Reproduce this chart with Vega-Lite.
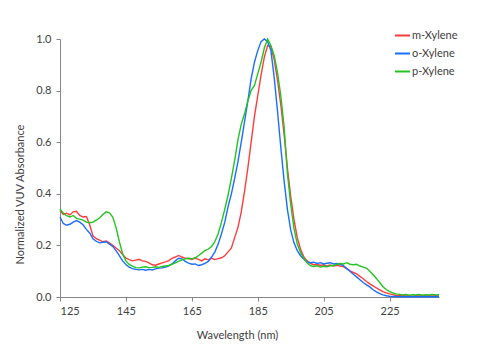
{
"$schema": "https://vega.github.io/schema/vega-lite/v6.json",
"width": 379, "height": 258,
"autosize": {"type": "none"},
"padding": {"left": 60, "top": 39, "right": 38, "bottom": 59},
"background": "white",
"config": {"view": {"stroke": null}, "font": "Lato"},
"data": {"values": [
{"x":125,"m-Xylene":0.335,"o-Xylene":0.31,"p-Xylene":0.34},
{"x":126,"m-Xylene":0.32,"o-Xylene":0.285,"p-Xylene":0.325},
{"x":127,"m-Xylene":0.325,"o-Xylene":0.278,"p-Xylene":0.315},
{"x":128,"m-Xylene":0.318,"o-Xylene":0.282,"p-Xylene":0.31},
{"x":129,"m-Xylene":0.33,"o-Xylene":0.29,"p-Xylene":0.316},
{"x":130,"m-Xylene":0.332,"o-Xylene":0.296,"p-Xylene":0.305},
{"x":131,"m-Xylene":0.316,"o-Xylene":0.29,"p-Xylene":0.302},
{"x":132,"m-Xylene":0.31,"o-Xylene":0.28,"p-Xylene":0.298},
{"x":133,"m-Xylene":0.312,"o-Xylene":0.262,"p-Xylene":0.29},
{"x":134,"m-Xylene":0.28,"o-Xylene":0.248,"p-Xylene":0.288},
{"x":135,"m-Xylene":0.237,"o-Xylene":0.226,"p-Xylene":0.29},
{"x":136,"m-Xylene":0.226,"o-Xylene":0.216,"p-Xylene":0.298},
{"x":137,"m-Xylene":0.22,"o-Xylene":0.21,"p-Xylene":0.306},
{"x":138,"m-Xylene":0.214,"o-Xylene":0.212,"p-Xylene":0.32},
{"x":139,"m-Xylene":0.217,"o-Xylene":0.214,"p-Xylene":0.33},
{"x":140,"m-Xylene":0.21,"o-Xylene":0.205,"p-Xylene":0.326},
{"x":141,"m-Xylene":0.2,"o-Xylene":0.196,"p-Xylene":0.31},
{"x":142,"m-Xylene":0.19,"o-Xylene":0.18,"p-Xylene":0.27},
{"x":143,"m-Xylene":0.18,"o-Xylene":0.16,"p-Xylene":0.215},
{"x":144,"m-Xylene":0.165,"o-Xylene":0.14,"p-Xylene":0.168},
{"x":145,"m-Xylene":0.151,"o-Xylene":0.126,"p-Xylene":0.14},
{"x":146,"m-Xylene":0.145,"o-Xylene":0.116,"p-Xylene":0.126},
{"x":147,"m-Xylene":0.14,"o-Xylene":0.11,"p-Xylene":0.12},
{"x":148,"m-Xylene":0.143,"o-Xylene":0.107,"p-Xylene":0.114},
{"x":149,"m-Xylene":0.146,"o-Xylene":0.105,"p-Xylene":0.113},
{"x":150,"m-Xylene":0.14,"o-Xylene":0.107,"p-Xylene":0.116},
{"x":151,"m-Xylene":0.138,"o-Xylene":0.104,"p-Xylene":0.117},
{"x":152,"m-Xylene":0.132,"o-Xylene":0.107,"p-Xylene":0.114},
{"x":153,"m-Xylene":0.125,"o-Xylene":0.105,"p-Xylene":0.115},
{"x":154,"m-Xylene":0.123,"o-Xylene":0.109,"p-Xylene":0.117},
{"x":155,"m-Xylene":0.128,"o-Xylene":0.112,"p-Xylene":0.115},
{"x":156,"m-Xylene":0.132,"o-Xylene":0.113,"p-Xylene":0.118},
{"x":157,"m-Xylene":0.136,"o-Xylene":0.116,"p-Xylene":0.12},
{"x":158,"m-Xylene":0.141,"o-Xylene":0.121,"p-Xylene":0.122},
{"x":159,"m-Xylene":0.15,"o-Xylene":0.128,"p-Xylene":0.127},
{"x":160,"m-Xylene":0.155,"o-Xylene":0.14,"p-Xylene":0.132},
{"x":161,"m-Xylene":0.161,"o-Xylene":0.15,"p-Xylene":0.138},
{"x":162,"m-Xylene":0.155,"o-Xylene":0.148,"p-Xylene":0.144},
{"x":163,"m-Xylene":0.15,"o-Xylene":0.138,"p-Xylene":0.148},
{"x":164,"m-Xylene":0.149,"o-Xylene":0.131,"p-Xylene":0.15},
{"x":165,"m-Xylene":0.145,"o-Xylene":0.127,"p-Xylene":0.148},
{"x":166,"m-Xylene":0.151,"o-Xylene":0.128,"p-Xylene":0.152},
{"x":167,"m-Xylene":0.146,"o-Xylene":0.122,"p-Xylene":0.16},
{"x":168,"m-Xylene":0.14,"o-Xylene":0.125,"p-Xylene":0.17},
{"x":169,"m-Xylene":0.148,"o-Xylene":0.13,"p-Xylene":0.18},
{"x":170,"m-Xylene":0.144,"o-Xylene":0.138,"p-Xylene":0.186},
{"x":171,"m-Xylene":0.15,"o-Xylene":0.155,"p-Xylene":0.196},
{"x":172,"m-Xylene":0.145,"o-Xylene":0.175,"p-Xylene":0.215},
{"x":173,"m-Xylene":0.149,"o-Xylene":0.205,"p-Xylene":0.245},
{"x":174,"m-Xylene":0.152,"o-Xylene":0.245,"p-Xylene":0.29},
{"x":175,"m-Xylene":0.16,"o-Xylene":0.29,"p-Xylene":0.34},
{"x":176,"m-Xylene":0.175,"o-Xylene":0.35,"p-Xylene":0.395},
{"x":177,"m-Xylene":0.19,"o-Xylene":0.4,"p-Xylene":0.46},
{"x":178,"m-Xylene":0.23,"o-Xylene":0.46,"p-Xylene":0.53},
{"x":179,"m-Xylene":0.27,"o-Xylene":0.525,"p-Xylene":0.61},
{"x":180,"m-Xylene":0.33,"o-Xylene":0.6,"p-Xylene":0.67},
{"x":181,"m-Xylene":0.41,"o-Xylene":0.68,"p-Xylene":0.71},
{"x":182,"m-Xylene":0.5,"o-Xylene":0.76,"p-Xylene":0.76},
{"x":183,"m-Xylene":0.6,"o-Xylene":0.845,"p-Xylene":0.8},
{"x":184,"m-Xylene":0.7,"o-Xylene":0.91,"p-Xylene":0.82},
{"x":185,"m-Xylene":0.78,"o-Xylene":0.955,"p-Xylene":0.865},
{"x":186,"m-Xylene":0.86,"o-Xylene":0.99,"p-Xylene":0.91},
{"x":187,"m-Xylene":0.93,"o-Xylene":1.0,"p-Xylene":0.965},
{"x":188,"m-Xylene":0.975,"o-Xylene":0.99,"p-Xylene":1.0},
{"x":189,"m-Xylene":0.97,"o-Xylene":0.955,"p-Xylene":0.975},
{"x":190,"m-Xylene":0.92,"o-Xylene":0.85,"p-Xylene":0.935},
{"x":191,"m-Xylene":0.84,"o-Xylene":0.72,"p-Xylene":0.87},
{"x":192,"m-Xylene":0.745,"o-Xylene":0.58,"p-Xylene":0.78},
{"x":193,"m-Xylene":0.63,"o-Xylene":0.45,"p-Xylene":0.66},
{"x":194,"m-Xylene":0.5,"o-Xylene":0.34,"p-Xylene":0.48},
{"x":195,"m-Xylene":0.39,"o-Xylene":0.26,"p-Xylene":0.36},
{"x":196,"m-Xylene":0.3,"o-Xylene":0.21,"p-Xylene":0.265},
{"x":197,"m-Xylene":0.23,"o-Xylene":0.18,"p-Xylene":0.205},
{"x":198,"m-Xylene":0.185,"o-Xylene":0.16,"p-Xylene":0.172},
{"x":199,"m-Xylene":0.155,"o-Xylene":0.146,"p-Xylene":0.15},
{"x":200,"m-Xylene":0.14,"o-Xylene":0.136,"p-Xylene":0.132},
{"x":201,"m-Xylene":0.13,"o-Xylene":0.133,"p-Xylene":0.122},
{"x":202,"m-Xylene":0.125,"o-Xylene":0.135,"p-Xylene":0.118},
{"x":203,"m-Xylene":0.127,"o-Xylene":0.13,"p-Xylene":0.121},
{"x":204,"m-Xylene":0.122,"o-Xylene":0.133,"p-Xylene":0.116},
{"x":205,"m-Xylene":0.125,"o-Xylene":0.128,"p-Xylene":0.119},
{"x":206,"m-Xylene":0.12,"o-Xylene":0.131,"p-Xylene":0.117},
{"x":207,"m-Xylene":0.124,"o-Xylene":0.133,"p-Xylene":0.121},
{"x":208,"m-Xylene":0.12,"o-Xylene":0.128,"p-Xylene":0.122},
{"x":209,"m-Xylene":0.123,"o-Xylene":0.13,"p-Xylene":0.126},
{"x":210,"m-Xylene":0.12,"o-Xylene":0.127,"p-Xylene":0.13},
{"x":211,"m-Xylene":0.118,"o-Xylene":0.122,"p-Xylene":0.128},
{"x":212,"m-Xylene":0.11,"o-Xylene":0.11,"p-Xylene":0.133},
{"x":213,"m-Xylene":0.101,"o-Xylene":0.1,"p-Xylene":0.127},
{"x":214,"m-Xylene":0.095,"o-Xylene":0.088,"p-Xylene":0.125},
{"x":215,"m-Xylene":0.09,"o-Xylene":0.078,"p-Xylene":0.127},
{"x":216,"m-Xylene":0.08,"o-Xylene":0.067,"p-Xylene":0.12},
{"x":217,"m-Xylene":0.071,"o-Xylene":0.056,"p-Xylene":0.116},
{"x":218,"m-Xylene":0.06,"o-Xylene":0.047,"p-Xylene":0.112},
{"x":219,"m-Xylene":0.051,"o-Xylene":0.039,"p-Xylene":0.1},
{"x":220,"m-Xylene":0.043,"o-Xylene":0.028,"p-Xylene":0.086},
{"x":221,"m-Xylene":0.035,"o-Xylene":0.02,"p-Xylene":0.072},
{"x":222,"m-Xylene":0.028,"o-Xylene":0.013,"p-Xylene":0.056},
{"x":223,"m-Xylene":0.021,"o-Xylene":0.008,"p-Xylene":0.04},
{"x":224,"m-Xylene":0.016,"o-Xylene":0.005,"p-Xylene":0.029},
{"x":225,"m-Xylene":0.012,"o-Xylene":0.003,"p-Xylene":0.021},
{"x":226,"m-Xylene":0.009,"o-Xylene":0.002,"p-Xylene":0.016},
{"x":227,"m-Xylene":0.006,"o-Xylene":0.002,"p-Xylene":0.012},
{"x":228,"m-Xylene":0.005,"o-Xylene":0.001,"p-Xylene":0.01},
{"x":229,"m-Xylene":0.006,"o-Xylene":0.002,"p-Xylene":0.008},
{"x":230,"m-Xylene":0.004,"o-Xylene":0.001,"p-Xylene":0.01},
{"x":231,"m-Xylene":0.005,"o-Xylene":0.002,"p-Xylene":0.007},
{"x":232,"m-Xylene":0.003,"o-Xylene":0.001,"p-Xylene":0.009},
{"x":233,"m-Xylene":0.005,"o-Xylene":0.002,"p-Xylene":0.008},
{"x":234,"m-Xylene":0.004,"o-Xylene":0.001,"p-Xylene":0.01},
{"x":235,"m-Xylene":0.006,"o-Xylene":0.002,"p-Xylene":0.007},
{"x":236,"m-Xylene":0.004,"o-Xylene":0.001,"p-Xylene":0.009},
{"x":237,"m-Xylene":0.005,"o-Xylene":0.002,"p-Xylene":0.008},
{"x":238,"m-Xylene":0.004,"o-Xylene":0.001,"p-Xylene":0.01},
{"x":239,"m-Xylene":0.005,"o-Xylene":0.002,"p-Xylene":0.008},
{"x":240,"m-Xylene":0.004,"o-Xylene":0.001,"p-Xylene":0.009}
]},
"transform": [{"fold": ["m-Xylene", "o-Xylene", "p-Xylene"], "as": ["series", "value"]}],
"mark": {"type": "line", "strokeWidth": 1.4, "interpolate": "linear"},
"encoding": {
  "x": {"field": "x", "type": "quantitative",
    "scale": {"domain": [125, 240], "nice": false, "zero": false},
    "axis": {"values": [125, 145, 165, 185, 205, 225], "grid": false, "tickSize": 4,
      "domainColor": "#868686", "tickColor": "#868686", "labelColor": "#404040",
      "labelFontSize": 11, "labelPadding": 4, "title": "Wavelength (nm)", "titleFontSize": 11,
      "titleFontWeight": "normal", "titleColor": "#404040", "titleX": 177, "titleY": 38,
      "titleBaseline": "middle", "titleAlign": "center"}},
  "y": {"field": "value", "type": "quantitative",
    "scale": {"domain": [0, 1], "nice": false},
    "axis": {"values": [0, 0.2, 0.4, 0.6, 0.8, 1.0], "format": ".1f", "grid": false, "tickSize": 4,
      "domainColor": "#868686", "tickColor": "#868686", "labelColor": "#404040",
      "labelFontSize": 11, "labelPadding": 5, "title": "Normalized VUV Absorbance", "titleFontSize": 11,
      "titleFontWeight": "normal", "titleColor": "#404040", "titleX": -40, "titleY": 155,
      "titleAngle": 270, "titleBaseline": "middle", "titleAlign": "center"}},
  "color": {"field": "series", "type": "nominal",
    "scale": {"domain": ["m-Xylene", "o-Xylene", "p-Xylene"], "range": ["#FF3B3B", "#1A6EFF", "#22C422"]},
    "legend": {"title": null, "orient": "none", "legendX": 334, "legendY": -12,
      "symbolType": "stroke", "symbolSize": 225, "symbolStrokeWidth": 2, "labelFontSize": 11,
      "labelColor": "#404040", "labelOffset": 1, "rowPadding": 4}}
}
}
